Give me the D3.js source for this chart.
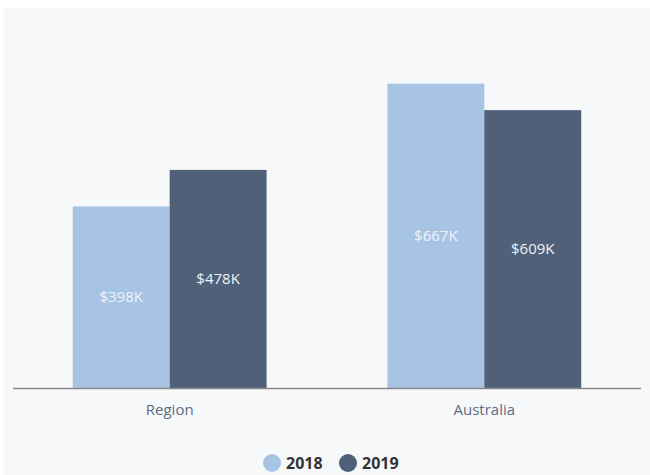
<html>
<head>
<title>region vs australia</title>
<script type="text/javascript" src="https://cdnjs.cloudflare.com/ajax/libs/d3/7.8.5/d3.min.js"></script>
<style>
	body {margin:0px; padding:0px; background:#ffffff; overflow:hidden;}
	svg {display:block;}
	text {font-family:"Open Sans", sans-serif;}
</style>
</head>
<body>
<svg id="chart" width="650" height="475"></svg>
<script type="text/javascript">

var categories = ['Region', 'Australia'];
var years = ['2018', '2019'];
var values2018 = [398, 667];   // $K
var values2019 = [478, 609];
var colors = ['#a8c4e5', '#4f6078'];

var rows = categories.map(function(c, i) {
	return {cat: c, vals: [values2018[i], values2019[i]]};
});

var svg = d3.select('#chart');

// grey panel
svg.append('rect')
	.attr('x', 4).attr('y', 8)
	.attr('width', 650).attr('height', 475)
	.attr('fill', '#f7f8fa');

var x0 = d3.scaleBand()
	.domain(categories)
	.range([13, 641])
	.paddingInner(0.384)
	.paddingOuter(0.19);

var x1 = d3.scaleBand()
	.domain(years)
	.range([0, x0.bandwidth()]);

var y = d3.scaleLinear()
	.domain([0, 800])
	.range([388, 23]);

var groups = svg.selectAll('g.grp')
	.data(rows)
	.enter()
	.append('g')
	.attr('class', 'grp')
	.attr('transform', function(d) {return 'translate(' + x0(d.cat) + ',0)'});

var bars = groups.selectAll('g.bar')
	.data(function(d) {return d.vals.map(function(v, j) {return {year: years[j], v: v, j: j}})})
	.enter()
	.append('g')
	.attr('class', 'bar');

bars.append('rect')
	.attr('x', function(d) {return x1(d.year)})
	.attr('y', function(d) {return y(d.v)})
	.attr('width', x1.bandwidth())
	.attr('height', function(d) {return y(0) - y(d.v)})
	.attr('fill', function(d) {return colors[d.j]});

bars.append('text')
	.attr('x', function(d) {return x1(d.year) + x1.bandwidth()/2})
	.attr('y', function(d) {return (y(d.v) + y(0))/2})
	.attr('dy', '0.35em')
	.attr('text-anchor', 'middle')
	.attr('font-size', '15px')
	.attr('fill', '#eef3f9')
	.text(function(d) {return '$' + d.v + 'K'});

// x axis
var xAxis = svg.append('g')
	.attr('transform', 'translate(0,388)')
	.call(d3.axisBottom(x0).tickSize(0).tickPadding(16));
xAxis.select('.domain')
	.attr('d', 'M13,0.5H641')
	.attr('stroke', '#888888')
	.attr('stroke-width', 1.5);
xAxis.selectAll('text')
	.attr('font-family', '"Open Sans", sans-serif')
	.attr('font-size', '15px')
	.attr('fill', '#5d6c82');

// legend
var legend = svg.append('g').attr('transform', 'translate(272,463)');
var lx = [0, 76];
years.forEach(function(yr, i) {
	legend.append('circle')
		.attr('cx', lx[i]).attr('cy', 0).attr('r', 9)
		.attr('fill', colors[i]);
	legend.append('text')
		.attr('x', lx[i] + 14).attr('y', 0)
		.attr('dy', '0.35em')
		.attr('font-size', '16px')
		.attr('font-weight', 'bold')
		.attr('fill', '#333333')
		.text(yr);
});

</script>
</body>
</html>
